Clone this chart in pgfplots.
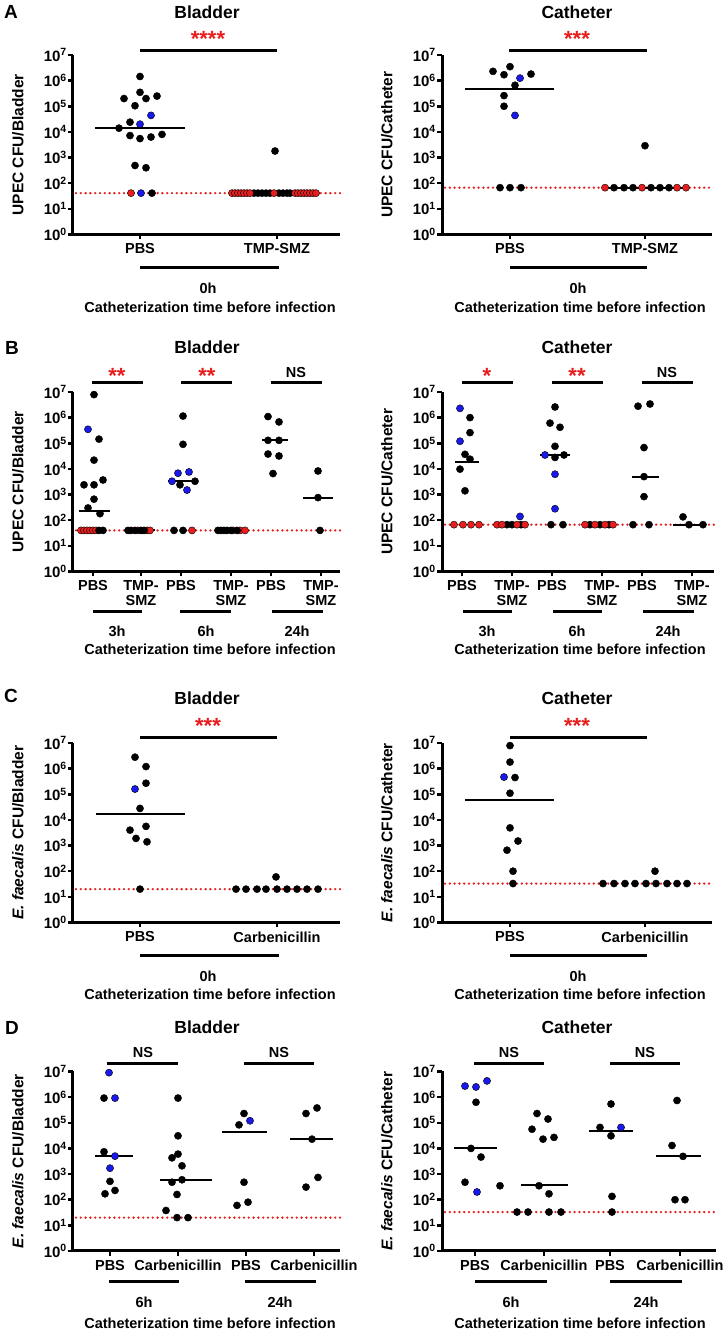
\documentclass[border=0pt]{standalone}
\usepackage{fontspec}
\setmainfont{Liberation Sans}
\usepackage{pgfplots}
\pgfplotsset{compat=1.18}
\definecolor{dotblue}{RGB}{25,25,235}
\definecolor{dotred}{RGB}{232,30,30}
\newcommand\fnt[1]{\fontsize{#1}{#1}\selectfont\bfseries}

\pgfplotsset{
  cfuaxis/.style={
    scale only axis, width=267pt, height=179.5pt,
    ymin=1, ymax=1e7,
    ytick={1,10,100,1000,10000,100000,1000000,10000000},
    yticklabels={10\textsuperscript{0},10\textsuperscript{1},10\textsuperscript{2},10\textsuperscript{3},
                 10\textsuperscript{4},10\textsuperscript{5},10\textsuperscript{6},10\textsuperscript{7}},
    yminorticks=false, xminorticks=false,
    axis x line*=bottom, axis y line*=left,
    axis line style={line width=3pt,-},
    tick align=outside, major tick length=5pt,
    tick style={line width=2.5pt, black},
    yticklabel style={font=\fnt{15}, inner sep=1pt},
    xticklabel style={font=\fnt{14.5}, align=center, inner sep=1pt, yshift=-3pt},
    every axis y label/.style={at={(rel axis cs:0,0.5)}, anchor=center, xshift=-55pt, rotate=90, font=\fnt{15.5}},
    clip=false,
  },
  pblk/.style={only marks, mark=*, mark size=3.6pt, mark options={draw=none, fill=black}},
  pblu/.style={only marks, mark=*, mark size=3.6pt, mark options={draw=none, fill=dotblue}},
  pred/.style={only marks, mark=*, mark size=3.6pt, mark options={draw=none, fill=dotred}},
  plod/.style={dotred, line width=2.6pt, line cap=round, dash pattern=on 0pt off 4.8pt},
  pmed/.style={black, line width=2pt},
}

\begin{document}
\begin{tikzpicture}
\useasboundingbox (0,0) rectangle (728pt,1336pt);

% ---------------- A: bladder
\begin{axis}[ymode=log, cfuaxis, at={(73pt,1101.5pt)}, anchor=south west, xmin=73, xmax=340,
  xtick={140,277}, xticklabels={PBS,TMP-SMZ}, ylabel={UPEC CFU/Bladder}]
\addplot[plod] coordinates {(76,41) (340,41)};
\addplot[pblk] coordinates {(140,1.45e6) (140,3.5e5) (124,2.0e5) (146,2.0e5) (157,2.5e5) (135,1.05e5)
  (130,2.4e4) (119,1.4e4) (130,7.2e3) (140,5.5e3) (151,6.3e3) (162,8e3) (135,490) (146,400) (152,41) (275,1.8e3)
  (254,41) (258,41) (262,41) (266,41) (270,41) (279,41) (283,41) (287,41) (290,41)};
\addplot[pblu] coordinates {(151,4.4e4) (140,2.0e4) (141,41)};
\addplot[pred] coordinates {(131,41) (232,41) (235,41) (238,41) (241,41) (244,41) (247,41) (250,41) (274,41)
  (295,41) (298,41) (301,41) (304,41) (307,41) (310,41) (313,41) (316,41)};
\addplot[pmed] coordinates {(95,1.4e4) (185,1.4e4)};
\addplot[pmed] coordinates {(230,41) (318,41)};
\end{axis}

% ---------------- A: catheter
\begin{axis}[ymode=log, cfuaxis, at={(442pt,1101.5pt)}, anchor=south west, xmin=442, xmax=712,
  width=270pt, xtick={510,645}, xticklabels={PBS,TMP-SMZ}, ylabel={UPEC CFU/Catheter}]
\addplot[plod] coordinates {(445,67) (712,67)};
\addplot[pblk] coordinates {(493,2.3e6) (504,1.7e6) (510,3.5e6) (531,1.8e6) (515,6.6e5) (504,2.6e5) (504,1.0e5)
  (500,67) (510,67) (521,67) (645,2.9e3)
  (614,67) (624,67) (633,67) (651,67) (660,67) (669,67)};
\addplot[pblu] coordinates {(520,1.25e6) (515,4.4e4)};
\addplot[pred] coordinates {(605,67) (642,67) (677,67) (686,67)};
\addplot[pmed] coordinates {(465,4.8e5) (554,4.8e5)};
\addplot[pmed] coordinates {(603,67) (688,67)};
\end{axis}

% ---------------- B: bladder
\begin{axis}[ymode=log, cfuaxis, at={(73pt,764.5pt)}, anchor=south west, xmin=73, xmax=340,
  xtick={93,141,181,231,271,321},
  xticklabels={PBS,TMP-\\SMZ,PBS,TMP-\\SMZ,PBS,TMP-\\SMZ}, ylabel={UPEC CFU/Bladder}]
\addplot[plod] coordinates {(76,40) (340,40)};
\addplot[pred] coordinates {(81,40) (84,40) (87,40) (90,40) (93,40) (96,40)
  (138,40) (147,40) (150,40)
  (192,40)
  (233,40) (240,40) (245,40)};
\addplot[pblk] coordinates {(94,7.9e6) (99,1.45e5) (94,2.2e4) (84,2.4e3) (94,2.4e3) (103,3.7e3) (94,660) (88,300) (100,180)
  (99,40) (103,40)
  (128,40) (131,40) (135,40) (141,40) (144,40)
  (183,1.15e6) (183,9.1e4) (180,2.4e3) (195,3.3e3) (174,40) (183,40)
  (218,40) (221,40) (224,40) (227,40) (231,40) (237,40)
  (268,1.1e6) (279,6.8e5) (268,1.3e5) (279,1.3e5) (268,3.8e4) (279,3.2e4) (273,6.6e3)
  (318,8.3e3) (318,760) (320,40)};
\addplot[pblu] coordinates {(88,3.5e5) (178,6.8e3) (189,7.6e3) (172,3.3e3) (187,1.5e3)};
\addplot[pmed] coordinates {(79,235) (110,235)};
\addplot[pmed] coordinates {(126,40) (155,40)};
\addplot[pmed] coordinates {(168,3.4e3) (198,3.4e3)};
\addplot[pmed] coordinates {(215,40) (247,40)};
\addplot[pmed] coordinates {(262,1.3e5) (288,1.3e5)};
\addplot[pmed] coordinates {(303,760) (333,760)};
\end{axis}

% ---------------- B: catheter
\begin{axis}[ymode=log, cfuaxis, at={(442pt,764.5pt)}, anchor=south west, xmin=442, xmax=714,
  width=272pt, xtick={462,512,552,602,642,692},
  xticklabels={PBS,TMP-\\SMZ,PBS,TMP-\\SMZ,PBS,TMP-\\SMZ}, ylabel={UPEC CFU/Catheter}]
\addplot[plod] coordinates {(445,67) (714,67)};
\addplot[pblk] coordinates {(470,1.0e6) (470,2.6e5) (465,3.7e4) (470,2.4e4) (460,9.8e3) (465,1.4e3)
  (507,67) (512,67) (521,67)
  (555,2.6e6) (550,6.1e5) (560,4.2e5) (555,7.6e4) (555,2.8e4) (564,3.5e4) (551,67) (563,67)
  (590,67) (600,67) (609,67)
  (638,2.8e6) (650,3.4e6) (644,6.8e4) (644,5.0e3) (644,830) (633,67) (649,67)
  (683,135) (689,67) (703,67)};
\addplot[pblu] coordinates {(460,2.3e6) (460,1.2e5) (520,140) (545,3.5e4) (555,6.2e3) (555,280)};
\addplot[pred] coordinates {(454,67) (463,67) (471,67) (479,67)
  (497,67) (502,67) (517,67) (525,67)
  (585,67) (595,67) (605,67) (613,67)};
\addplot[pmed] coordinates {(455,1.8e4) (479,1.8e4)};
\addplot[pmed] coordinates {(495,67) (527,67)};
\addplot[pmed] coordinates {(540,3.5e4) (570,3.5e4)};
\addplot[pmed] coordinates {(583,67) (615,67)};
\addplot[pmed] coordinates {(632,5e3) (659,5e3)};
\addplot[pmed] coordinates {(673,67) (706,67)};
\end{axis}

% ---------------- C: bladder
\begin{axis}[ymode=log, cfuaxis, at={(73pt,413.5pt)}, anchor=south west, xmin=73, xmax=340,
  xtick={140,277}, xticklabels={PBS,Carbenicillin}, ylabel={\textit{E. faecalis} CFU/Bladder}]
\addplot[plod] coordinates {(76,20) (340,20)};
\addplot[pblk] coordinates {(135,2.8e6) (146,1.2e6) (146,2.7e5) (140,2.8e4) (146,5.6e3) (130,4e3) (136,1.9e3)
  (147,1.4e3) (140,20)
  (276,60) (236,20) (246,20) (257,20) (266,20) (277,20) (287,20) (297,20) (307,20) (318,20)};
\addplot[pblu] coordinates {(135,1.6e5)};
\addplot[pmed] coordinates {(96,1.7e4) (185,1.7e4)};
\end{axis}

% ---------------- C: catheter
\begin{axis}[ymode=log, cfuaxis, at={(442pt,413.5pt)}, anchor=south west, xmin=442, xmax=712,
  width=270pt, xtick={510,645}, xticklabels={PBS,Carbenicillin}, ylabel={\textit{E. faecalis} CFU/Catheter}]
\addplot[plod] coordinates {(445,33) (712,33)};
\addplot[pblk] coordinates {(510,7.9e6) (510,1.8e6) (515,4.5e5) (510,1.1e5) (510,4.9e3) (518,1.5e3) (507,660)
  (513,100) (513,33)
  (655,100) (603,33) (614,33) (625,33) (635,33) (646,33) (656,33) (667,33) (677,33) (687,33)};
\addplot[pblu] coordinates {(504,4.7e5)};
\addplot[pmed] coordinates {(465,6e4) (554,6e4)};
\end{axis}

% ---------------- D: bladder
\begin{axis}[ymode=log, cfuaxis, at={(73pt,85pt)}, anchor=south west, xmin=73, xmax=340,
  xtick={110,178,246,314}, xticklabels={PBS,Carbenicillin,PBS,Carbenicillin},
  ylabel={\textit{E. faecalis} CFU/Bladder}]
\addplot[plod] coordinates {(76,20) (340,20)};
\addplot[pblk] coordinates {(104,9.2e5) (104,7.4e3) (110,520) (105,170) (115,230)
  (178,9.2e5) (178,3.1e4) (178,6e3) (172,4.3e3) (182,2.1e3) (172,480) (182,600) (177,160) (166,38) (177,20) (188,20)
  (244,2.3e5) (239,8.3e4) (244,480) (237,60) (248,80)
  (306,2.3e5) (317,3.8e5) (312,2.3e4) (306,310) (318,740)};
\addplot[pblu] coordinates {(109,9e6) (115,9.2e5) (115,5e3) (110,1.7e3) (250,1.2e5)};
\addplot[pmed] coordinates {(95,5e3) (133,5e3)};
\addplot[pmed] coordinates {(160,600) (212,600)};
\addplot[pmed] coordinates {(222,4.3e4) (267,4.3e4)};
\addplot[pmed] coordinates {(290,2.3e4) (333,2.3e4)};
\end{axis}

% ---------------- D: catheter
\begin{axis}[ymode=log, cfuaxis, at={(442pt,85pt)}, anchor=south west, xmin=442, xmax=716,
  width=274pt, xtick={475,544,610,680}, xticklabels={PBS,Carbenicillin,PBS,Carbenicillin},
  ylabel={\textit{E. faecalis} CFU/Catheter}]
\addplot[plod] coordinates {(445,33) (716,33)};
\addplot[pblk] coordinates {(476,6.3e5) (471,1.0e4) (481,4.6e3) (465,480) (500,350)
  (537,2.3e5) (548,1.4e5) (532,5.6e4) (543,2.3e4) (554,2.7e4) (539,350) (549,170) (517,33) (528,33) (549,33) (561,33)
  (611,5.4e5) (600,6.6e4) (611,3.1e4) (612,135) (612,33)
  (677,7.4e5) (672,1.3e4) (683,4.9e3) (675,100) (685,100)};
\addplot[pblu] coordinates {(465,2.7e6) (476,2.5e6) (487,4.3e6) (477,200) (621,6.6e4)};
\addplot[pmed] coordinates {(454,1e4) (497,1e4)};
\addplot[pmed] coordinates {(521,380) (568,380)};
\addplot[pmed] coordinates {(589,4.8e4) (633,4.8e4)};
\addplot[pmed] coordinates {(656,4.9e3) (701,4.9e3)};
\end{axis}

% ---------------- annotations
\tikzset{gbar/.style={line width=3pt}, ttl/.style={font=\fnt{17.5}}, capt/.style={font=\fnt{14.5}},
  sigstar/.style={font=\fnt{22}, text=dotred}, nstxt/.style={font=\fnt{14.5}}}
% panel letters
\node[font=\fnt{19}] at (11pt,1324pt) {A};
\node[font=\fnt{19}] at (12pt,988pt) {B};
\node[font=\fnt{19}] at (11pt,640pt) {C};
\node[font=\fnt{19}] at (12pt,308pt) {D};
% row A
\node[ttl] at (207pt,1324pt) {Bladder};
\node[ttl] at (577pt,1324pt) {Catheter};
\node[sigstar] at (208pt,1297pt) {****};
\node[sigstar] at (577pt,1297pt) {***};
\draw[gbar] (140pt,1285pt) -- (277pt,1285pt);
\draw[gbar] (509pt,1285pt) -- (647pt,1285pt);
\draw[gbar] (140pt,1068pt) -- (279pt,1068pt);
\draw[gbar] (510pt,1068pt) -- (647pt,1068pt);
\node[capt] at (208pt,1048pt) {0h};
\node[capt] at (578pt,1048pt) {0h};
\node[capt] at (210pt,1029pt) {Catheterization time before infection};
\node[capt] at (580pt,1029pt) {Catheterization time before infection};
% row B
\node[ttl] at (207pt,989pt) {Bladder};
\node[ttl] at (577pt,989pt) {Catheter};
\node[sigstar] at (117pt,960pt) {**};
\node[sigstar] at (207pt,960pt) {**};
\node[nstxt] at (296pt,963pt) {NS};
\node[sigstar] at (487pt,960pt) {*};
\node[sigstar] at (577pt,960pt) {**};
\node[nstxt] at (667pt,963pt) {NS};
\draw[gbar] (92pt,953pt) -- (143pt,953pt);
\draw[gbar] (181pt,953pt) -- (232pt,953pt);
\draw[gbar] (271pt,953pt) -- (322pt,953pt);
\draw[gbar] (462pt,953pt) -- (513pt,953pt);
\draw[gbar] (552pt,953pt) -- (603pt,953pt);
\draw[gbar] (642pt,953pt) -- (693pt,953pt);
\draw[gbar] (93pt,724pt) -- (142pt,724pt);
\draw[gbar] (180pt,724pt) -- (231pt,724pt);
\draw[gbar] (272pt,724pt) -- (323pt,724pt);
\draw[gbar] (463pt,724pt) -- (512pt,724pt);
\draw[gbar] (553pt,724pt) -- (602pt,724pt);
\draw[gbar] (643pt,724pt) -- (694pt,724pt);
\node[capt] at (117pt,705pt) {3h};
\node[capt] at (206pt,705pt) {6h};
\node[capt] at (297pt,705pt) {24h};
\node[capt] at (487pt,705pt) {3h};
\node[capt] at (577pt,705pt) {6h};
\node[capt] at (668pt,705pt) {24h};
\node[capt] at (210pt,687pt) {Catheterization time before infection};
\node[capt] at (580pt,687pt) {Catheterization time before infection};
% row C
\node[ttl] at (207pt,638pt) {Bladder};
\node[ttl] at (577pt,638pt) {Catheter};
\node[sigstar] at (208pt,610pt) {***};
\node[sigstar] at (577pt,610pt) {***};
\draw[gbar] (140pt,598pt) -- (277pt,598pt);
\draw[gbar] (510pt,598pt) -- (647pt,598pt);
\draw[gbar] (140pt,380pt) -- (279pt,380pt);
\draw[gbar] (510pt,380pt) -- (647pt,380pt);
\node[capt] at (208pt,360pt) {0h};
\node[capt] at (578pt,360pt) {0h};
\node[capt] at (210pt,342pt) {Catheterization time before infection};
\node[capt] at (580pt,342pt) {Catheterization time before infection};
% row D
\node[ttl] at (207pt,309pt) {Bladder};
\node[ttl] at (577pt,309pt) {Catheter};
\node[nstxt] at (143pt,283pt) {NS};
\node[nstxt] at (279pt,283pt) {NS};
\node[nstxt] at (509pt,283pt) {NS};
\node[nstxt] at (645pt,283pt) {NS};
\draw[gbar] (107pt,272pt) -- (178pt,272pt);
\draw[gbar] (244pt,272pt) -- (314pt,272pt);
\draw[gbar] (474pt,272pt) -- (544pt,272pt);
\draw[gbar] (610pt,272pt) -- (680pt,272pt);
\draw[gbar] (109pt,54pt) -- (179pt,54pt);
\draw[gbar] (245pt,54pt) -- (316pt,54pt);
\draw[gbar] (475pt,54pt) -- (547pt,54pt);
\draw[gbar] (610pt,54pt) -- (682pt,54pt);
\node[capt] at (144pt,34pt) {6h};
\node[capt] at (280pt,34pt) {24h};
\node[capt] at (511pt,34pt) {6h};
\node[capt] at (646pt,34pt) {24h};
\node[capt] at (210pt,13pt) {Catheterization time before infection};
\node[capt] at (580pt,13pt) {Catheterization time before infection};
\end{tikzpicture}
\end{document}
